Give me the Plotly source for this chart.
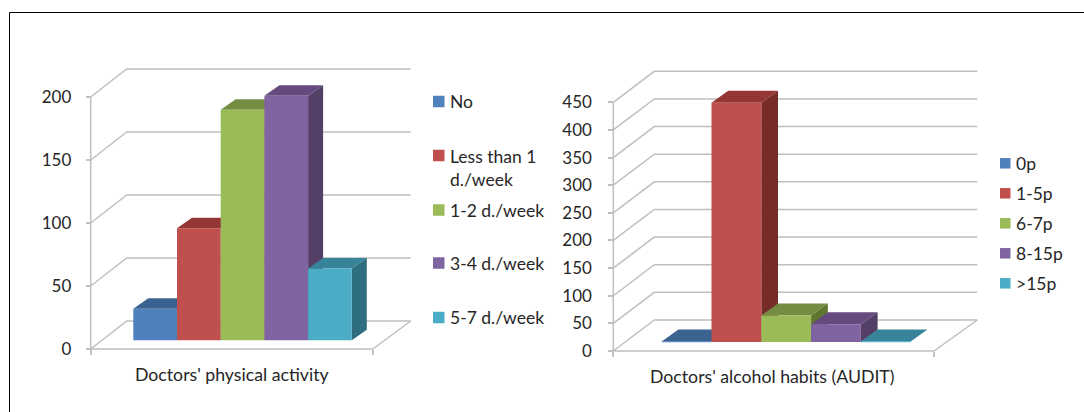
import plotly.graph_objects as go

# ---------- data ----------
activity_categories = ["No", "Less than 1<br>d./week", "1-2 d./week", "3-4 d./week", "5-7 d./week"]
activity_values = [25, 89, 183, 194, 57]
activity_ticks = [0, 50, 100, 150, 200]
activity_title = "Doctors' physical activity"

audit_categories = ["0p", "1-5p", "6-7p", "8-15p", ">15p"]
audit_values = [1, 433, 48, 32, 1]
audit_ticks = [0, 50, 100, 150, 200, 250, 300, 350, 400, 450]
audit_title = "Doctors' alcohol habits (AUDIT)"

front_colors = ["#4F81BD", "#C0504D", "#9BBB59", "#8064A2", "#4BACC6"]
top_colors = ["#3B6190", "#943634", "#748D43", "#644A7E", "#37839A"]
side_colors = ["#2C4D75", "#772C2A", "#5F7530", "#543F66", "#2E6E7E"]
grid_color = "#BFBFBF"
text_color = "#262626"
FONT = "Lato"
W, H = 1084, 412

fig = go.Figure()
layout = {}
annotations = []
shapes = []


def px_x(p):
    return p / W


def px_y(p):
    return (H - p) / H


def draw_chart(idx, cats, vals, ticks, title, g):
    main = 2 * idx - 1
    over = 2 * idx
    tick_max = ticks[-1]
    per_val = (g["y0"] - g["ytop"]) / tick_max
    per_cat = g["barw"]
    to_cat = lambda p: (p - g["bar0"]) / per_cat - 0.5
    to_val = lambda p: (g["y0"] - p) / per_val

    xl, xr = to_cat(g["xl"]), to_cat(g["xr"])
    wall_dx = to_cat(g["xl"] + g["wall_dx"]) - xl
    wall_dy = g["wall_dy"] / per_val
    xback = to_cat(g["xback"])
    base = g["base_up"] / per_val
    bar_dx = g["bar_dx"] / per_cat
    bar_dy = g["bar_dy"] / per_val

    xdom = [px_x(g["xl"] - 8), px_x(g["xback"] + 6)]
    ydom = [px_y(g["y0"] + 6), px_y(g["y0"] - g["wall_dy"] - (g["y0"] - g["ytop"]) - 6)]
    xrange = [to_cat(g["xl"] - 8), to_cat(g["xback"] + 6)]
    yrange = [to_val(g["y0"] + 6), to_val(g["y0"] - g["wall_dy"] - (g["y0"] - g["ytop"]) - 6)]

    # visible axes (scales shared by walls, bars)
    layout[f"xaxis{main}"] = dict(
        domain=xdom, range=xrange, anchor="free", position=px_y(g["y0"]),
        tickvals=[xl, xr], showticklabels=False, ticks="outside", ticklen=5, tickwidth=1.5,
        tickcolor=grid_color, showgrid=False, zeroline=False, showline=False,
    )
    layout[f"yaxis{main}"] = dict(
        domain=ydom, range=yrange, anchor="free", position=px_x(g["xl"]),
        tickvals=ticks, ticks="outside", ticklen=5, tickwidth=1.5, tickcolor=grid_color,
        ticklabelstandoff=g["standoff"], tickfont=dict(family=FONT, size=17, color=text_color),
        showgrid=False, zeroline=False, showline=False,
    )
    layout[f"xaxis{over}"] = dict(
        domain=xdom, range=xrange, overlaying=f"x{main if main > 1 else ''}", anchor=f"y{over}", visible=False,
    )
    layout[f"yaxis{over}"] = dict(
        domain=ydom, range=yrange, overlaying=f"y{main if main > 1 else ''}", anchor=f"x{over}", visible=False,
    )
    xa = f"x{main if main > 1 else ''}"
    ya = f"y{main if main > 1 else ''}"
    xb, yb = f"x{over}", f"y{over}"

    def line(xs, ys):
        fig.add_trace(go.Scatter(x=xs, y=ys, xaxis=xa, yaxis=ya, mode="lines", hoverinfo="skip",
                                 line=dict(color=grid_color, width=1.5), showlegend=False))

    # gridlines on the walls
    for t in ticks:
        line([xl, xl + wall_dx, xback], [t, t + wall_dy, t + wall_dy])
    # front axis lines and floor edge
    line([xl, xl], [0, tick_max])
    line([xl, xr, xback], [0, 0, wall_dy])

    # side and top faces, left to right
    for i, v in enumerate(vals):
        x0, x1 = i - 0.5, i + 0.5
        b, t = base, base + v
        fig.add_trace(go.Scatter(
            x=[x1, x1 + bar_dx, x1 + bar_dx, x1, x1], y=[b, b + bar_dy, t + bar_dy, t, b],
            xaxis=xa, yaxis=ya, mode="lines", fill="toself", fillcolor=side_colors[i],
            line=dict(width=0), hoverinfo="skip", showlegend=False))
        fig.add_trace(go.Scatter(
            x=[x0, x1, x1 + bar_dx, x0 + bar_dx, x0], y=[t, t, t + bar_dy, t + bar_dy, t],
            xaxis=xa, yaxis=ya, mode="lines", fill="toself", fillcolor=top_colors[i],
            line=dict(width=0), hoverinfo="skip", showlegend=False))

    # front faces
    fig.add_trace(go.Bar(
        x=list(range(len(vals))), y=vals, base=[base] * len(vals), width=1.0,
        xaxis=xb, yaxis=yb, marker=dict(color=front_colors, line=dict(width=0)),
        customdata=[c.replace("<br>", " ") for c in cats], hovertemplate="%{customdata}: %{y}<extra></extra>",
        showlegend=False))

    # title under the axis
    annotations.append(dict(text=title, xref="paper", yref="paper", x=px_x(g["title_x"]), y=px_y(g["title_y"]),
                            xanchor="center", yanchor="middle", showarrow=False,
                            font=dict(family=FONT, size=g["title_size"], color=text_color)))
    # legend
    for c, col, yc in zip(cats, front_colors, g["legend_y"]):
        s = g["swatch"]
        shapes.append(dict(type="rect", xref="paper", yref="paper", line=dict(width=0), fillcolor=col,
                           x0=px_x(g["legend_x"]), x1=px_x(g["legend_x"] + s),
                           y0=px_y(yc + s / 2), y1=px_y(yc - s / 2)))
        two = "<br>" in c
        annotations.append(dict(text=c, xref="paper", yref="paper", x=px_x(g["legend_x"] + s + 3),
                                y=px_y(yc + (12 if two else 0)), xanchor="left", yanchor="middle", align="left",
                                showarrow=False, font=dict(family=FONT, size=g["legend_size"], color=text_color)))


draw_chart(1, activity_categories, activity_values, activity_ticks, activity_title, dict(
    y0=349, ytop=97, xl=90.7, xr=372.7, xback=410.7, wall_dx=36, wall_dy=28,
    bar0=133.3, barw=43.7, base_up=8.7, bar_dx=15, bar_dy=10.5, standoff=11,
    title_x=231.5, title_y=374, title_size=17.7, legend_size=17.5,
    legend_x=433, swatch=11.5, legend_y=[101.5, 155.5, 210, 263, 317.5],
))
draw_chart(2, audit_categories, audit_values, audit_ticks, audit_title, dict(
    y0=351, ytop=102.3, xl=613.3, xr=934, xback=977.3, wall_dx=41, wall_dy=31,
    bar0=661.7, barw=49.8, base_up=9, bar_dx=16.7, bar_dy=12, standoff=13,
    title_x=773, title_y=376, title_size=17.7, legend_size=17.5,
    legend_x=1000, swatch=10.5, legend_y=[163.3, 193.3, 223.3, 253.3, 283.3],
))

# picture frame
shapes.append(dict(type="line", xref="paper", yref="paper", x0=px_x(9.5), x1=px_x(9.5), y0=0, y1=px_y(12.5),
                   line=dict(color="#000000", width=1)))
shapes.append(dict(type="line", xref="paper", yref="paper", x0=px_x(9.5), x1=1, y0=px_y(12.5), y1=px_y(12.5),
                   line=dict(color="#000000", width=1)))

fig.update_layout(width=W, height=H, margin=dict(l=0, r=0, t=0, b=0, autoexpand=False), autosize=False,
                  paper_bgcolor="white", plot_bgcolor="rgba(0,0,0,0)", showlegend=False,
                  annotations=annotations, shapes=shapes, **layout)
fig.write_html("out.html", config={"displayModeBar": False},
               post_script="document.body.style.margin='0';document.documentElement.style.overflow='hidden';")
